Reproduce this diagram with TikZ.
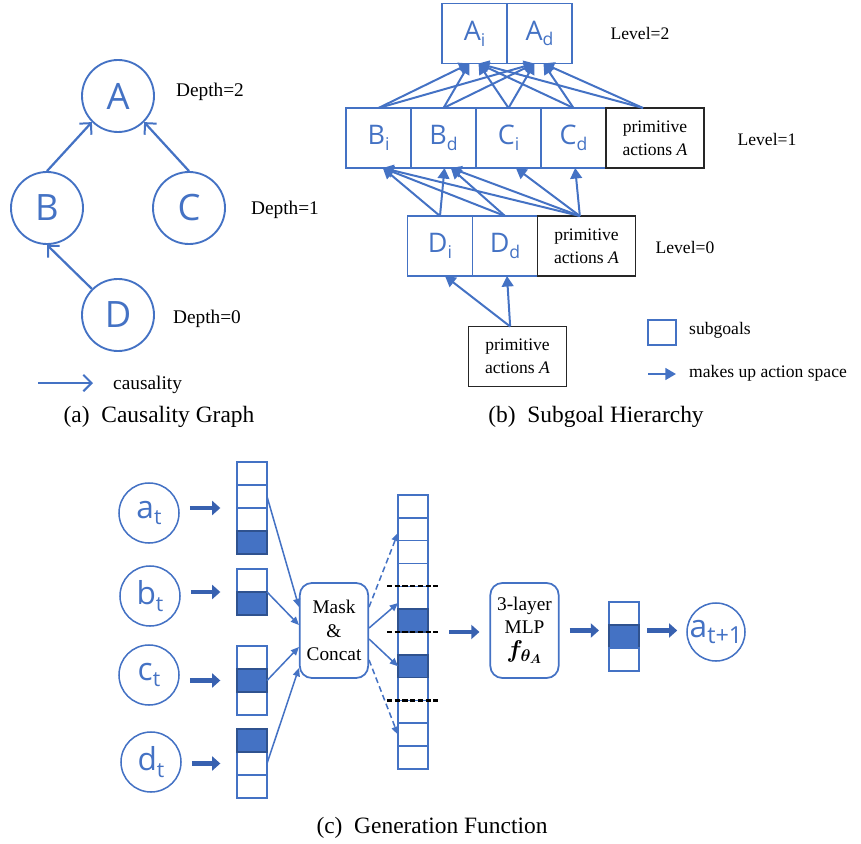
\documentclass[tikz,border=0pt]{standalone}
\usepackage{fontspec}
\usepackage{bm}
\setmainfont{Liberation Serif}
\newfontfamily\glyphfont{Open Sans}
\usetikzlibrary{positioning}
\usetikzlibrary{arrows.meta}

\definecolor{sgblue}{RGB}{68,114,196}
\definecolor{sgdark}{RGB}{47,82,143}
\definecolor{sgmid}{RGB}{56,97,176}

\newcommand{\fs}[2]{\fontsize{#1}{#2}\selectfont}
\newcommand{\sgname}[2]{{\glyphfont\fs{23}{23}#1\raisebox{-5pt}{\fs{15}{15}#2}}}
\newcommand{\stname}[2]{{\glyphfont\fs{27}{27}#1\raisebox{-5.5pt}{\fs{18}{18}#2}}}

\tikzset{
  note/.style={inner sep=0pt,font=\fs{16.5}{20}},
  lvl/.style={inner sep=0pt,font=\fs{15}{18}},
  caption/.style={inner sep=0pt,font=\fs{20}{24}},
  causenode/.style={circle,draw=sgblue,line width=1.6pt,minimum size=2.16cm,inner sep=0pt,text=sgblue,font=\glyphfont\fs{31}{31}},
  cause/.style={draw=sgblue,line width=1.9pt,-{Straight Barb[length=7pt,width=14pt,line width=1.7pt]}},
  subgoal/.style={draw=sgblue,line width=1.5pt,outer sep=0pt,minimum width=1.95cm,minimum height=1.8cm,inner sep=0pt,text=sgblue},
  prim/.style={draw=black!85,line width=1.6pt,outer sep=0pt,minimum width=2.94cm,minimum height=1.8cm,inner sep=0pt,align=center,font=\fs{15}{20}},
  makes/.style={draw=sgblue,line width=1.7pt,-{Triangle[length=9pt,width=10pt]}},
  statenode/.style={circle,draw=sgblue,line width=1.3pt,minimum size=1.8cm,inner sep=0pt,text=sgblue},
  cell/.style={draw=sgblue,line width=1.4pt,outer sep=0pt,minimum width=0.9cm,minimum height=0.69cm,inner sep=0pt},
  gcell/.style={cell,minimum height=0.685cm},
  hot/.style={fill=sgblue,draw=sgdark},
  proc/.style={draw=sgblue,line width=1.5pt,rounded corners=0.36cm,minimum width=2.05cm,minimum height=2.85cm,inner sep=0pt,align=center,font=\fs{16.5}{20}},
  feed/.style={draw=sgblue,line width=1.3pt,-{Triangle[length=7pt,width=6pt]}},
  masked/.style={feed,dash pattern=on 5pt off 3pt},
  fat/.style={draw=sgmid,line width=4pt,-{Triangle[length=7pt,width=12pt]}},
  sep/.style={draw=black,line width=1.8pt,dash pattern=on 4.3pt off 2.3pt}
}

\begin{document}
\begin{tikzpicture}[x=0.03cm,y=-0.03cm]
\useasboundingbox (0,0) rectangle (861,844);

% (a) causality graph
\node[causenode] (A) at (118,96) {A};
\node[causenode] (B) at (47,208) {B};
\node[causenode] (C) at (189,208) {C};
\node[causenode] (D) at (118,315) {D};
\draw[cause] (B.north) -- (A.225);
\draw[cause] (C.north) -- (A.315);
\draw[cause] (D.135) -- (B.south);
\node[note] (dep2) at (210,92) {Depth=2};
\node[note] (dep1) at (285,210) {Depth=1};
\node[note] (dep0) at (207,319) {Depth=0};
\coordinate (cs) at (38,383);
\coordinate (ce) at (93,383);
\draw[cause] (cs) -- (ce);
\node[note,anchor=west] (causetxt) at (113,385) {causality};
\node[caption] (capa) at (159,417) {(a)\hspace{0.5em}Causality Graph};

% (b) subgoal hierarchy
\node[subgoal] (Ai) at (474.5,33.5) {\sgname{A}{i}};
\node[subgoal,right=0pt of Ai] (Ad) {\sgname{A}{d}};
\node[subgoal] (Bi) at (378.5,138) {\sgname{B}{i}};
\node[subgoal,right=0pt of Bi] (Bd) {\sgname{B}{d}};
\node[subgoal,right=0pt of Bd] (Ci) {\sgname{C}{i}};
\node[subgoal,right=0pt of Ci] (Cd) {\sgname{C}{d}};
\node[prim,right=0pt of Cd] (P1) {primitive\\actions \textit{A}};
\node[subgoal] (Di) at (440,246) {\sgname{D}{i}};
\node[subgoal,right=0pt of Di] (Dd) {\sgname{D}{d}};
\node[prim,right=0pt of Dd] (P0) {primitive\\actions \textit{A}};
\node[prim] (P) at (517.5,356.5) {primitive\\actions \textit{A}};

\foreach \s in {Bi,Bd} \draw[makes] (\s.north) -- ([xshift=-0.15cm]Ai.south);
\foreach \s in {Ci,Cd} \draw[makes] (\s.north) -- ([xshift=0.12cm]Ai.south);
\draw[makes] ([xshift=-0.36cm]P1.north) -- ([xshift=0.12cm]Ai.south);
\foreach \s in {Bi,Bd,Ci} \draw[makes] (\s.north) -- ([xshift=-0.15cm]Ad.south);
\draw[makes] (Cd.north) -- ([xshift=0.12cm]Ad.south);
\draw[makes] ([xshift=-0.36cm]P1.north) -- ([xshift=0.12cm]Ad.south);

\draw[makes] (Di.north) -- ([xshift=0.13cm]Bi.south);
\draw[makes] (Di.north) -- ([xshift=0.03cm]Bd.south);
\draw[makes] (Dd.north) -- ([xshift=0.13cm]Bi.south);
\draw[makes] (Dd.north) -- ([xshift=0.22cm]Bd.south);
\draw[makes] ([xshift=-0.2cm]P0.north) -- ([xshift=0.13cm]Bi.south);
\draw[makes] ([xshift=-0.2cm]P0.north) -- ([xshift=0.22cm]Bd.south);
\draw[makes] ([xshift=-0.2cm]P0.north) -- ([xshift=0.22cm]Ci.south);
\draw[makes] ([xshift=-0.2cm]P0.north) -- ([xshift=0.05cm]Cd.south);

\draw[makes] ([xshift=-0.22cm]P.north) -- ([xshift=0.15cm]Di.south);
\draw[makes] ([xshift=-0.22cm]P.north) -- ([xshift=0.06cm]Dd.south);

\node[lvl] (lev2) at (640,33) {Level=2};
\node[lvl] (lev1) at (767,139) {Level=1};
\node[lvl] (lev0) at (685,247) {Level=0};

\node[subgoal,minimum width=0.84cm,minimum height=0.75cm] (legbox) at (662,332.5) {};
\node[lvl,anchor=west] (legboxtxt) at (689,330) {subgoals};
\coordinate (legs) at (648,374);
\coordinate (lege) at (676,374);
\draw[makes] (legs) -- (lege);
\node[lvl,anchor=west] (legarrtxt) at (689,373) {makes up action space};
\node[caption] (capb) at (596,417) {(b)\hspace{0.5em}Subgoal Hierarchy};

% (c) generation function
\node[statenode] (sa) at (149,513) {\stname{a}{t}};
\node[statenode] (sb) at (150,596) {\stname{b}{t}};
\node[statenode] (sc) at (149,675) {\stname{c}{t}};
\node[statenode] (sd) at (151,762) {\stname{d}{t}};

\foreach \k/\y in {1/473.5,2/496.5,3/519.5} \node[cell] (a\k) at (252,\y) {};
\node[cell,hot] (a4) at (252,542.5) {};
\node[cell] (b1) at (252,580.5) {};
\node[cell,hot] (b2) at (252,603.5) {};
\foreach \k/\y in {1/657.5,3/703.5} \node[cell] (c\k) at (252,\y) {};
\node[cell,hot] (c2) at (252,680.5) {};
\foreach \k/\y in {2/763.5,3/786.5} \node[cell] (d\k) at (252,\y) {};
\node[cell,hot] (d1) at (252,740.5) {};

\draw[fat,shorten <=0.3cm,shorten >=0.5cm] (sa.east |- a2.south west) -- (a2.south west);
\draw[fat,shorten <=0.3cm,shorten >=0.5cm] (sb.east |- b1.south west) -- (b1.south west);
\draw[fat,shorten <=0.3cm,shorten >=0.5cm] (sc.east |- c2.west) -- (c2.west);
\draw[fat,shorten <=0.3cm,shorten >=0.5cm] (sd.east |- d2.west) -- (d2.west);

\node[proc] (mask) at (334,630.5) {Mask\\\&\\Concat};
\draw[feed] (a2.east) -- ([yshift=0.705cm]mask.west);
\draw[feed] (b1.south east) -- ([yshift=0.165cm]mask.west);
\draw[feed] (c2.east) -- ([yshift=-0.495cm]mask.west);
\draw[feed] (d2.east) -- ([yshift=-1.125cm]mask.west);

\foreach \k in {1,...,12} \node[gcell] (g\k) at (413,{495+22.83*(\k-0.5)}) {};
\node[gcell,hot] at (g6) {};
\node[gcell,hot] at (g8) {};
\foreach \k in {4,6,9} \draw[sep] ([xshift=-0.33cm]g\k.south west) -- ([xshift=0.3cm]g\k.south east);

\draw[masked] ([yshift=0.705cm]mask.east) -- ([yshift=-0.11cm]g2.west);
\draw[feed] ([yshift=0.075cm]mask.east) -- ([yshift=-0.16cm]g5.west);
\draw[feed] ([yshift=-0.255cm]mask.east) -- (g8.west);
\draw[masked] ([yshift=-0.885cm]mask.east) -- (g11.west);

\node[proc] (mlp) at (524.5,630.5) {3-layer\\MLP\\{\fs{21}{20}$\bm{f_{\theta_A}}$}};
\draw[fat,shorten <=0.63cm,shorten >=0.3cm] (g6.south east) -- (g6.south east -| mlp.west);

\node[cell] (r1) at (624,613.5) {};
\node[cell,hot] (r2) at (624,636.5) {};
\node[cell] (r3) at (624,659.5) {};
\draw[fat,shorten <=0.3cm,shorten >=0.3cm] (mlp.east) -- (mlp.east -| r2.west);

\node[statenode,minimum size=1.74cm,label={[text=sgblue]center:\stname{a}{\fs{20}{20}t+1}}] (snext) at (716,632) {};
\draw[fat,shorten <=0.24cm,shorten >=0.27cm] (r2.east |- mlp.east) -- (snext.west |- mlp.east);

\node[caption] (capc) at (432,828) {(c)\hspace{0.5em}Generation Function};

\end{tikzpicture}
\end{document}
